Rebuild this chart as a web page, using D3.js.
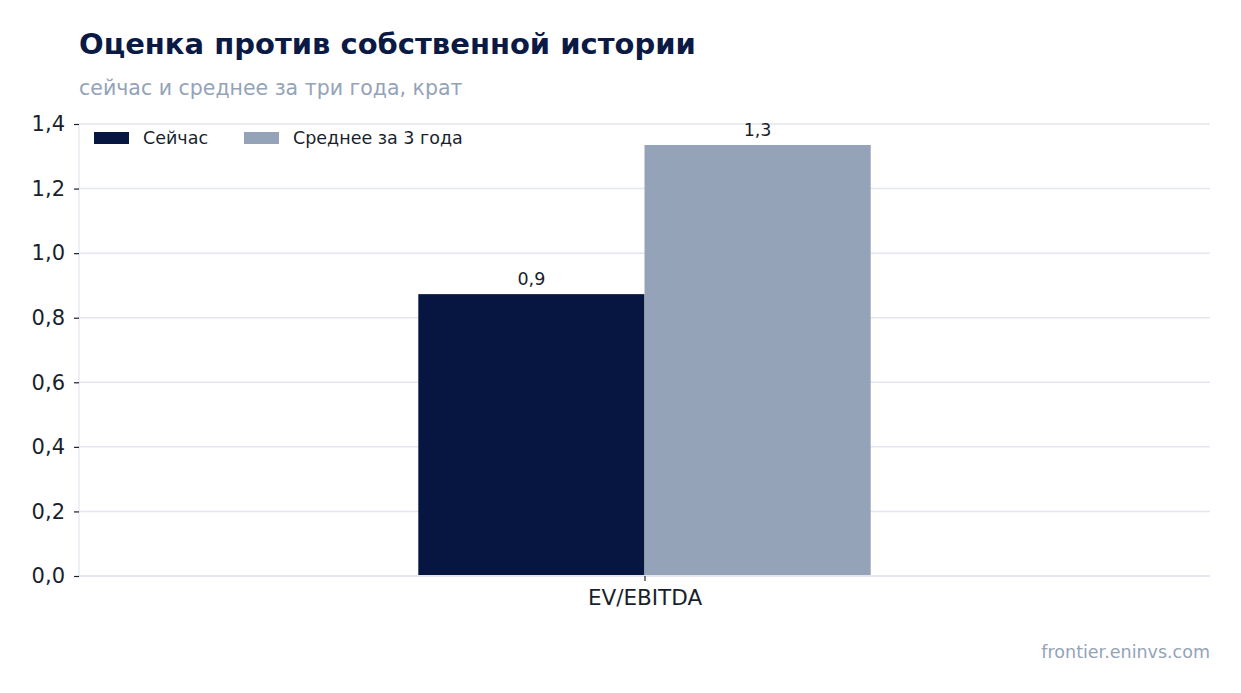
<!DOCTYPE html>
<meta charset="utf-8">
<style>
  body { margin: 0; background: #fff; }
  svg text { font-family: "DejaVu Sans", sans-serif; }
</style>
<svg width="1241" height="693"></svg>
<script src="https://d3js.org/d3.v7.min.js"></script>
<script>
var categories = ["EV/EBITDA"];
var seriesNames = ["Сейчас", "Среднее за 3 года"];
var nowValues = [0.873];
var avgValues = [1.335];
var valueLabels = [["0,9"], ["1,3"]];
var yTicks = [0, 0.2, 0.4, 0.6, 0.8, 1.0, 1.2, 1.4];

var colors = ["#061641", "#94a3b8"];

var svg = d3.select("svg"),
    margin = {left: 79, right: 31, top: 124, bottom: 117},
    width = +svg.attr("width") - margin.left - margin.right,
    height = +svg.attr("height") - margin.top - margin.bottom,
    g = svg.append("g").attr("transform", "translate(" + margin.left + "," + margin.top + ")");

var x = d3.scaleLinear().domain([-1, 1]).range([0, width]);
var y = d3.scaleLinear().domain([0, 1.4]).range([height, 0]);
var barW = 0.4;

// grid
g.selectAll(".grid")
  .data(yTicks)
  .enter().append("line")
    .attr("x1", 0).attr("x2", width)
    .attr("y1", function(d) { return y(d); })
    .attr("y2", function(d) { return y(d); })
    .style("stroke", "#e3e6ee").style("stroke-width", 1.5);

// left spine
g.append("line").attr("x1", 0).attr("x2", 0).attr("y1", 0).attr("y2", height)
  .style("stroke", "#e3e6ee").style("stroke-width", 1.2);

var series = [nowValues, avgValues];
series.forEach(function(vals, si) {
  g.selectAll(".bar" + si)
    .data(vals)
    .enter().append("rect")
      .attr("x", function(d, i) { return x(i + (si - 1) * barW); })
      .attr("width", x(barW) - x(0))
      .attr("y", function(d) { return y(d); })
      .attr("height", function(d) { return y(0) - y(d); })
      .style("fill", colors[si]);

  g.selectAll(".lbl" + si)
    .data(vals)
    .enter().append("text")
      .attr("x", function(d, i) { return x(i + (si - 0.5) * barW); })
      .attr("y", function(d) { return y(d) - 9; })
      .attr("text-anchor", "middle")
      .style("font-size", "17.5px").style("fill", "#1a1f2e")
      .text(function(d, i) { return valueLabels[si][i]; });
});

// bottom line
g.append("line").attr("x1", 0).attr("x2", width).attr("y1", height).attr("y2", height)
  .style("stroke", "#e3e6ee").style("stroke-width", 2);

// y axis
var yAxis = g.append("g")
  .call(d3.axisLeft(y).tickValues(yTicks).tickSize(5).tickPadding(9)
    .tickFormat(function(d) { return d3.format(".1f")(d).replace(".", ","); }));
yAxis.select(".domain").remove();
yAxis.selectAll(".tick line").style("stroke", "#1a1f2e").style("stroke-width", 1.2);
yAxis.selectAll(".tick text").style("font-size", "21px").style("fill", "#1a1f2e")
  .style("font-family", "DejaVu Sans, sans-serif");

// x axis
var xAxis = g.append("g").attr("transform", "translate(0," + height + ")")
  .call(d3.axisBottom(x).tickValues(categories.map(function(c, i) { return i; }))
    .tickSize(5).tickPadding(9)
    .tickFormat(function(d) { return categories[d]; }));
xAxis.select(".domain").remove();
xAxis.selectAll(".tick line").style("stroke", "#1a1f2e").style("stroke-width", 1.2);
xAxis.selectAll(".tick text").style("font-size", "21.5px").style("fill", "#1a1f2e")
  .style("font-family", "DejaVu Sans, sans-serif");

// legend
var legend = g.append("g").attr("transform", "translate(15,8)");
var legX = [0, 150];
seriesNames.forEach(function(n, i) {
  legend.append("rect").attr("x", legX[i]).attr("y", 0).attr("width", 35).attr("height", 12)
    .style("fill", colors[i]);
  legend.append("text").attr("x", legX[i] + 49).attr("y", 6).attr("dy", "0.35em")
    .style("font-size", "17.5px").style("fill", "#1a1f2e").text(n);
});

// titles
svg.append("text").attr("x", 79).attr("y", 54)
  .style("font-size", "29px").style("font-weight", "bold").style("fill", "#0a1a44")
  .text("Оценка против собственной истории");
svg.append("text").attr("x", 79).attr("y", 95)
  .style("font-size", "20.5px").style("fill", "#94a3b8")
  .text("сейчас и среднее за три года, крат");
svg.append("text").attr("x", 1210).attr("y", 658).attr("text-anchor", "end")
  .style("font-size", "17.5px").style("fill", "#94a3b8")
  .text("frontier.eninvs.com");
</script>
